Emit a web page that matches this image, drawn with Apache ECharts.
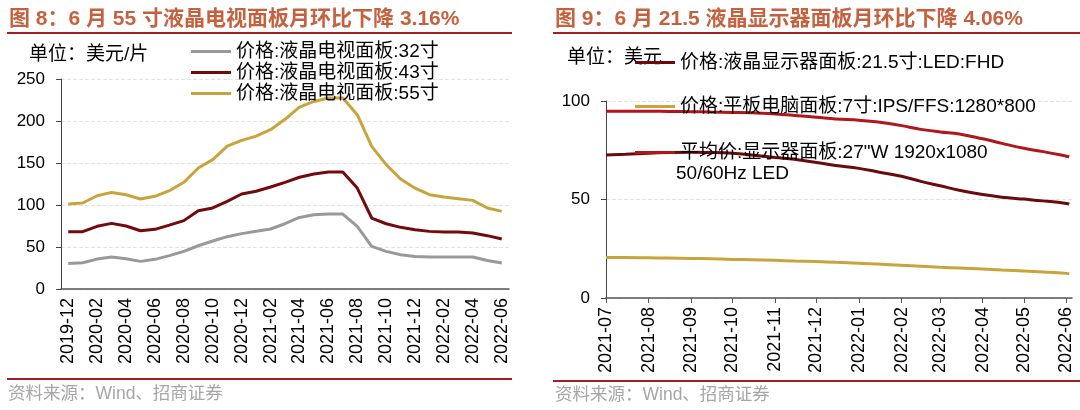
<!DOCTYPE html>
<html lang="zh-CN">
<head>
<meta charset="UTF-8">
<title>液晶面板价格</title>
<script src="https://cdn.jsdelivr.net/npm/echarts/dist/echarts.min.js"></script>
<style>
    html, body { margin: 0; padding: 0; background: #fff; }
    #main { width: 1080px; height: 410px; }
</style>
</head>
<body>
<div id="main"></div>
<script type="text/javascript">
    // 图8：液晶电视面板价格（月度，美元/片）
    var tvMonths = ['2019-12', '2020-01', '2020-02', '2020-03', '2020-04', '2020-05', '2020-06',
        '2020-07', '2020-08', '2020-09', '2020-10', '2020-11', '2020-12', '2021-01', '2021-02',
        '2021-03', '2021-04', '2021-05', '2021-06', '2021-07', '2021-08', '2021-09', '2021-10',
        '2021-11', '2021-12', '2022-01', '2022-02', '2022-03', '2022-04', '2022-05', '2022-06'];
    var tv32 = [30.5, 31.3, 35.6, 38, 36, 32.9, 35.3, 39.7, 44.8, 51.5, 57.1, 62.3, 65.9, 68.7, 71.4,
        77.7, 85.2, 88.4, 89.2, 89.2, 74.5, 50.7, 44.8, 40.8, 38.8, 38, 38, 38, 38, 34, 31];
    var tv43 = [68.2, 68.2, 74.6, 78.1, 75, 69.4, 71, 76.1, 81.4, 93.2, 96.5, 104.4, 113.1, 116.3, 121.4,
        127, 133, 137, 139.3, 139.3, 120.2, 84.5, 77.7, 73.4, 70.6, 68.6, 67.8, 67.8, 66.6, 63.5, 59.5];
    var tv55 = [101.2, 102.4, 111, 115, 112.2, 107.1, 110.3, 117, 127, 144, 154, 170, 177, 182, 189.6,
        202, 216.6, 223.3, 227.4, 227.4, 207.5, 169.8, 148, 131, 120, 112.3, 109.5, 107.5, 105.5, 96.4, 92.4];
    var tvNames = ['价格:液晶电视面板:32寸', '价格:液晶电视面板:43寸', '价格:液晶电视面板:55寸'];

    // 图9：显示器/平板面板价格（美元）
    var monDates = ['2021-07-01', '2021-07-15', '2021-08-01', '2021-08-15', '2021-09-01', '2021-09-15',
        '2021-10-01', '2021-10-15', '2021-11-01', '2021-11-15', '2021-12-01', '2021-12-15',
        '2022-01-01', '2022-01-15', '2022-02-01', '2022-02-15', '2022-03-01', '2022-03-15',
        '2022-04-01', '2022-04-15', '2022-05-01', '2022-05-15', '2022-06-01', '2022-06-03'];
    var mon215 = [72.6, 73.0, 73.5, 73.8, 74.0, 73.9, 73.5, 72.6, 71.3, 70.4, 68.8, 67.3,
        65.8, 64.0, 61.8, 59.2, 57.0, 54.7, 52.5, 51.2, 50.2, 49.3, 48.0, 47.6];
    var pad7 = [20.5, 20.5, 20.4, 20.3, 20.1, 19.9, 19.6, 19.4, 19.1, 18.8, 18.5, 18.1,
        17.7, 17.2, 16.6, 16.1, 15.6, 15.2, 14.7, 14.2, 13.7, 13.2, 12.5, 12.3];
    var mon27 = [94.8, 94.8, 94.8, 94.7, 94.6, 94.4, 94.2, 94.0, 93.4, 92.7, 91.8, 90.9,
        90.2, 89.3, 87.5, 85.6, 84.3, 83.3, 80.8, 78.5, 76.0, 74.3, 72.0, 71.7];
    var monNames = ['价格:液晶显示器面板:21.5寸:LED:FHD', '价格:平板电脑面板:7寸:IPS/FFS:1280*800',
        '平均价:显示器面板:27"W 1920x1080'];

    var FONT = '"Liberation Sans", "Noto Sans CJK SC", sans-serif';
    var RULE = '#a31f24';

    function pairs(dates, vals) {
        return dates.map(function (d, i) { return [d, vals[i]]; });
    }

    function txt(text, x, y, size, color, bold) {
        return {
            type: 'text', z: 0,
            style: {
                text: text, x: x, y: y, fill: color, verticalAlign: 'middle',
                font: (bold ? 'bold ' : '') + size + 'px ' + FONT
            }
        };
    }
    function rule(x1, x2, y) {
        return {
            type: 'line', z: 0,
            shape: { x1: x1, y1: y, x2: x2, y2: y },
            style: { stroke: RULE, lineWidth: 2 }
        };
    }

    var yLabelStyle = { color: '#000', fontSize: 17, fontFamily: FONT };
    var xLabelStyle = { color: '#000', fontSize: 18, fontFamily: FONT };
    var legendBase = {
        orient: 'vertical', icon: 'rect', itemWidth: 40, itemHeight: 3, itemGap: 2,
        selectedMode: false,
        textStyle: { color: '#000', fontSize: 19, fontFamily: FONT }
    };

    var myChart = echarts.init(document.getElementById('main'));
    var option = {
        animation: false,
        graphic: [
            txt('图 8：6 月 55 寸液晶电视面板月环比下降 3.16%', 9, 19, 21, '#c4623f', true),
            txt('图 9：6 月 21.5 液晶显示器面板月环比下降 4.06%', 555, 19, 21, '#c4623f', true),
            rule(7, 512, 33),
            rule(553, 1080, 33),
            rule(7, 512, 379),
            rule(553, 1080, 381),
            txt('资料来源：Wind、招商证券', 8, 394, 17.5, '#a6a6a6', false),
            txt('资料来源：Wind、招商证券', 555, 395, 17.5, '#a6a6a6', false),
            txt('单位：美元/片', 29, 55, 19, '#000', false),
            txt('单位：美元', 567, 58, 19, '#000', false),
            txt('50/60Hz LED', 676, 174, 19, '#000', false)
        ],
        legend: [
            Object.assign({}, legendBase, { data: tvNames, left: 186, top: 37 }),
            Object.assign({}, legendBase, { data: [monNames[0]], left: 630, top: 48 }),
            Object.assign({}, legendBase, { data: [monNames[1]], left: 630, top: 92 }),
            Object.assign({}, legendBase, { data: [monNames[2]], left: 630, top: 138 })
        ],
        grid: [
            { left: 61, top: 79, width: 448, height: 210 },
            { left: 606, top: 101, width: 466, height: 197 }
        ],
        xAxis: [
            {
                type: 'category', gridIndex: 0, data: tvMonths, boundaryGap: true,
                axisLine: { lineStyle: { color: '#555', width: 1.5 } },
                axisTick: { interval: 1, length: 5, lineStyle: { color: '#555' } },
                axisLabel: Object.assign({ interval: 1, rotate: 90, margin: 9 }, xLabelStyle)
            },
            {
                type: 'time', gridIndex: 1, min: '2021-07-01', max: '2022-06-05',
                splitNumber: 11, minInterval: 28 * 86400000, maxInterval: 31 * 86400000,
                axisLine: { lineStyle: { color: '#555', width: 1.5 } },
                axisTick: { length: 5, lineStyle: { color: '#555' } },
                splitLine: { show: false },
                axisLabel: Object.assign({ rotate: 90, margin: 9, formatter: '{yyyy}-{MM}', hideOverlap: false }, xLabelStyle)
            }
        ],
        yAxis: [
            {
                type: 'value', gridIndex: 0, min: 0, max: 250, interval: 50,
                axisLine: { show: true, lineStyle: { color: '#444' } },
                axisTick: { show: true, length: 5, lineStyle: { color: '#444' } },
                splitLine: { lineStyle: { color: '#e3e3e3', type: 'dashed' } },
                axisLabel: Object.assign({ margin: 16 }, yLabelStyle)
            },
            {
                type: 'value', gridIndex: 1, min: 0, max: 100, interval: 50,
                axisLine: { show: true, lineStyle: { color: '#444' } },
                axisTick: { show: true, length: 5, lineStyle: { color: '#444' } },
                splitLine: { lineStyle: { color: '#e3e3e3', type: 'dashed' } },
                axisLabel: Object.assign({ margin: 16 }, yLabelStyle)
            }
        ],
        series: [
            { name: tvNames[0], type: 'line', xAxisIndex: 0, yAxisIndex: 0, data: tv32,
                symbol: 'none', color: '#999999', lineStyle: { width: 3 } },
            { name: tvNames[1], type: 'line', xAxisIndex: 0, yAxisIndex: 0, data: tv43,
                symbol: 'none', color: '#730a0c', lineStyle: { width: 3 } },
            { name: tvNames[2], type: 'line', xAxisIndex: 0, yAxisIndex: 0, data: tv55,
                symbol: 'none', color: '#c9a43c', lineStyle: { width: 3 } },
            { name: monNames[0], type: 'line', xAxisIndex: 1, yAxisIndex: 1, data: pairs(monDates, mon215),
                symbol: 'none', smooth: 0.4, color: '#6a0a0d', lineStyle: { width: 3 } },
            { name: monNames[1], type: 'line', xAxisIndex: 1, yAxisIndex: 1, data: pairs(monDates, pad7),
                symbol: 'none', smooth: 0.4, color: '#c9a43c', lineStyle: { width: 3 } },
            { name: monNames[2], type: 'line', xAxisIndex: 1, yAxisIndex: 1, data: pairs(monDates, mon27),
                symbol: 'none', smooth: 0.4, color: '#b0161c', lineStyle: { width: 3 } }
        ]
    };
    option && myChart.setOption(option);
</script>
</body>
</html>
